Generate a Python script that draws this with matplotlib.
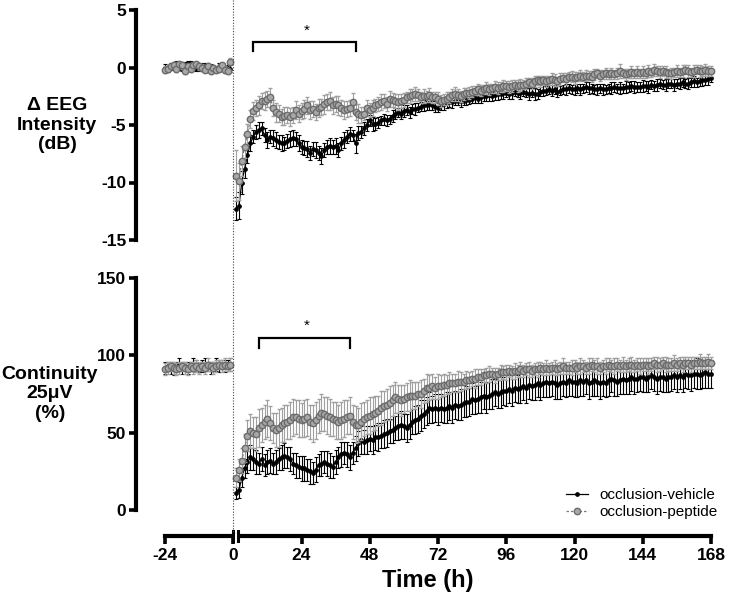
import matplotlib
matplotlib.use('Agg')
import matplotlib.pyplot as plt
import matplotlib.transforms as mtrans
from matplotlib.lines import Line2D

plt.rcParams['font.family'] = ['Liberation Sans', 'DejaVu Sans']

# ---------------- data ----------------
hours_pre = list(range(-24, 0))
hours_post = list(range(1, 169))
x_ticks = [-24, 0, 24, 48, 72, 96, 120, 144, 168]
eeg_ticks = [-15, -10, -5, 0, 5]
cont_ticks = [0, 50, 100, 150]
series_names = ['occlusion-vehicle', 'occlusion-peptide']

# EEG intensity (dB) -- baseline
eeg_veh_pre = [0.0, -0.2, 0.1, 0.2, 0.3, 0.1, -0.1, 0.2, 0.4, 0.3, 0.1, -0.1,
               0.0, 0.2, 0.1, -0.2, 0.0, -0.1, -0.2, 0.1, -0.1, -0.2, 0.0, -0.1]
eeg_pep_pre = [-0.2, -0.1, 0.1, 0.2, -0.1, 0.3, 0.2, -0.3, 0.1, -0.1, 0.2, 0.3,
               0.1, 0.0, -0.2, 0.1, -0.3, 0.0, -0.2, -0.1, 0.2, -0.2, -0.3, 0.5]
eeg_veh_pre_err = [0.3, 0.2, 0.3, 0.2, 0.3, 0.3, 0.2, 0.3, 0.2, 0.3, 0.3, 0.2,
                   0.3, 0.2, 0.3, 0.2, 0.3, 0.3, 0.2, 0.3, 0.2, 0.3, 0.2, 0.3]
eeg_pep_pre_err = [0.3, 0.3, 0.2, 0.3, 0.3, 0.2, 0.3, 0.3, 0.2, 0.3, 0.3, 0.2,
                   0.3, 0.3, 0.2, 0.3, 0.3, 0.2, 0.3, 0.3, 0.2, 0.3, 0.3, 0.3]

# EEG intensity (dB) -- after occlusion
eeg_veh = [-12.3, -12.0, -10.0, -8.8, -7.6, -6.6, -6.0, -5.6, -5.4, -5.3,
           -5.9, -6.3, -6.0, -6.1, -6.3, -6.5, -6.6, -6.6, -6.4, -6.2,
           -6.1, -6.2, -6.6, -6.9, -7.0, -7.1, -7.4, -7.1, -7.2, -7.4,
           -7.7, -7.2, -6.9, -6.8, -6.9, -6.8, -7.2, -6.6, -6.3, -6.0,
           -5.8, -5.9, -6.6, -5.7, -5.6, -5.3, -5.0, -4.6, -4.9, -4.9,
           -4.8, -4.6, -4.5, -4.6, -4.5, -4.2, -4.0, -3.9, -4.0, -3.8,
           -3.7, -3.9, -3.6, -3.6, -3.5, -3.4, -3.3, -3.3, -3.2, -3.3,
           -3.4, -3.5, -3.3, -3.2, -3.1, -3.0, -3.0, -2.9, -2.9, -2.9,
           -2.9, -2.8, -2.8, -2.7, -2.6, -2.7, -2.6, -2.5, -2.5, -2.4,
           -2.5, -2.4, -2.3, -2.3, -2.2, -2.2, -2.3, -2.2, -2.1, -2.2,
           -2.2, -2.1, -2.2, -2.3, -2.2, -2.3, -2.3, -2.1, -2.0, -2.0,
           -1.9, -2.0, -1.9, -2.1, -2.0, -1.9, -1.9, -1.8, -1.9, -1.9,
           -1.8, -1.9, -1.8, -1.7, -1.8, -1.8, -1.9, -1.9, -1.8, -1.9,
           -1.9, -1.8, -1.8, -1.7, -1.8, -1.8, -1.8, -1.7, -1.7, -1.6,
           -1.7, -1.7, -1.7, -1.6, -1.6, -1.7, -1.5, -1.6, -1.5, -1.4,
           -1.5, -1.5, -1.4, -1.4, -1.5, -1.4, -1.4, -1.3, -1.4, -1.4,
           -1.3, -1.2, -1.3, -1.2, -1.1, -1.1, -1.0, -0.9]
eeg_pep = [-9.4, -9.9, -8.1, -6.9, -5.8, -4.5, -3.8, -3.5, -3.3, -2.9,
           -2.9, -2.7, -2.6, -3.5, -3.9, -4.0, -4.3, -4.2, -4.1, -4.3,
           -4.1, -3.7, -4.0, -3.8, -3.6, -3.3, -3.7, -3.6, -3.9, -3.5,
           -3.4, -3.2, -3.0, -2.9, -3.3, -3.2, -3.3, -3.5, -3.7, -3.6,
           -3.5, -3.0, -3.9, -4.0, -4.1, -4.0, -3.5, -3.7, -3.5, -3.3,
           -3.2, -3.0, -2.9, -3.2, -2.7, -2.8, -2.9, -3.0, -2.9, -2.8,
           -2.6, -2.5, -2.4, -2.3, -2.4, -2.6, -2.5, -2.5, -2.4, -2.6,
           -2.6, -2.7, -2.9, -2.8, -2.7, -2.6, -2.4, -2.3, -2.4, -2.5,
           -2.3, -2.2, -2.2, -2.1, -2.0, -1.9, -2.0, -1.9, -1.8, -1.9,
           -1.8, -1.7, -1.8, -1.7, -1.6, -1.6, -1.7, -1.6, -1.5, -1.6,
           -1.5, -1.5, -1.4, -1.3, -1.4, -1.2, -1.1, -1.2, -1.1, -1.2,
           -1.1, -1.0, -1.1, -1.2, -1.0, -0.9, -1.0, -0.8, -0.8, -0.9,
           -0.8, -0.7, -0.8, -0.7, -0.7, -0.8, -0.6, -0.5, -0.7, -0.6,
           -0.5, -0.6, -0.5, -0.6, -0.5, -0.3, -0.5, -0.6, -0.5, -0.4,
           -0.5, -0.4, -0.5, -0.4, -0.5, -0.3, -0.4, -0.2, -0.3, -0.4,
           -0.3, -0.4, -0.5, -0.5, -0.4, -0.3, -0.4, -0.3, -0.2, -0.3,
           -0.4, -0.3, -0.2, -0.3, -0.3, -0.2, -0.3, -0.3]
eeg_veh_err = [1.0, 1.2, 1.0, 0.8, 0.7, 0.7, 0.6, 0.6, 0.7, 0.6,
               0.6, 0.7, 0.6, 0.7, 0.7, 0.6, 0.7, 0.6, 0.6, 0.7,
               0.7, 0.6, 0.7, 0.6, 0.6, 0.7, 0.6, 0.6, 0.7, 0.6,
               0.7, 0.6, 0.6, 0.7, 0.6, 0.7, 0.6, 0.6, 0.7, 0.6,
               0.6, 0.5, 0.8, 0.6, 0.5, 0.6, 0.5, 0.5, 0.6, 0.5,
               0.5, 0.4, 0.5, 0.5, 0.4, 0.5, 0.5, 0.4, 0.5, 0.5,
               0.4, 0.5, 0.4, 0.5, 0.4, 0.4, 0.5, 0.4, 0.5, 0.4,
               0.5, 0.4, 0.4, 0.5, 0.4, 0.4, 0.5, 0.4, 0.4, 0.5,
               0.4, 0.5, 0.4, 0.4, 0.5, 0.4, 0.5, 0.4, 0.4, 0.5,
               0.4, 0.4, 0.5, 0.4, 0.5, 0.4, 0.4, 0.5, 0.4, 0.4,
               0.5, 0.4, 0.4, 0.5, 0.4, 0.5, 0.4, 0.4, 0.5, 0.4,
               0.4, 0.5, 0.4, 0.5, 0.4, 0.4, 0.5, 0.4, 0.4, 0.5,
               0.4, 0.5, 0.4, 0.4, 0.5, 0.4, 0.4, 0.5, 0.4, 0.5,
               0.4, 0.4, 0.5, 0.4, 0.4, 0.5, 0.4, 0.5, 0.4, 0.4,
               0.5, 0.4, 0.4, 0.5, 0.4, 0.5, 0.4, 0.4, 0.5, 0.4,
               0.4, 0.5, 0.4, 0.4, 0.5, 0.4, 0.5, 0.4, 0.4, 0.5,
               0.4, 0.5, 0.4, 0.4, 0.5, 0.4, 0.5, 0.4]
eeg_pep_err = [2.2, 1.6, 1.3, 1.0, 0.9, 0.8, 0.8, 0.7, 0.8, 0.7,
               0.8, 0.7, 0.8, 0.7, 0.8, 0.7, 0.7, 0.8, 0.7, 0.8,
               0.7, 0.8, 0.7, 0.7, 0.8, 0.7, 0.8, 0.7, 0.7, 0.8,
               0.7, 0.8, 0.7, 0.8, 0.7, 0.7, 0.8, 0.7, 0.8, 0.7,
               0.7, 0.8, 0.7, 0.8, 0.7, 0.6, 0.7, 0.6, 0.7, 0.6,
               0.6, 0.7, 0.6, 0.6, 0.7, 0.6, 0.6, 0.7, 0.6, 0.6,
               0.5, 0.6, 0.5, 0.6, 0.5, 0.5, 0.6, 0.5, 0.6, 0.5,
               0.5, 0.6, 0.5, 0.5, 0.6, 0.5, 0.5, 0.6, 0.5, 0.5,
               0.5, 0.4, 0.5, 0.5, 0.4, 0.5, 0.5, 0.4, 0.5, 0.5,
               0.4, 0.5, 0.5, 0.4, 0.5, 0.4, 0.5, 0.5, 0.4, 0.5,
               0.5, 0.4, 0.5, 0.4, 0.5, 0.5, 0.4, 0.5, 0.4, 0.5,
               0.4, 0.5, 0.5, 0.4, 0.5, 0.4, 0.5, 0.4, 0.5, 0.5,
               0.4, 0.5, 0.4, 0.5, 0.4, 0.5, 0.5, 0.4, 0.5, 0.4,
               0.5, 0.4, 0.5, 0.4, 0.5, 0.6, 0.4, 0.5, 0.4, 0.5,
               0.4, 0.5, 0.4, 0.5, 0.4, 0.5, 0.4, 0.5, 0.4, 0.5,
               0.4, 0.5, 0.4, 0.5, 0.4, 0.5, 0.4, 0.5, 0.4, 0.5,
               0.4, 0.5, 0.4, 0.5, 0.4, 0.5, 0.4, 0.4]

# Continuity 25 uV (%) -- baseline
cont_veh_pre = [92, 93, 92, 91, 93, 94, 92, 93, 92, 93, 94, 93,
                92, 93, 94, 93, 92, 93, 94, 93, 94, 93, 94, 94]
cont_pep_pre = [91, 92, 93, 92, 91, 92, 93, 92, 91, 93, 92, 93,
                92, 93, 92, 94, 93, 92, 93, 94, 93, 94, 93, 94]
cont_veh_pre_err = [4, 3, 4, 4, 3, 4, 4, 3, 4, 3, 4, 4,
                    3, 4, 4, 3, 4, 3, 4, 4, 3, 4, 3, 4]
cont_pep_pre_err = [4, 4, 3, 4, 4, 4, 3, 4, 4, 3, 4, 4,
                    4, 3, 4, 4, 3, 4, 4, 3, 4, 4, 3, 4]

# Continuity 25 uV (%) -- after occlusion
cont_veh = [11, 13, 21, 27, 31, 34, 33, 31, 30, 33,
            29, 31, 32, 30, 31, 33, 34, 35, 34, 33,
            30, 29, 28, 27, 27, 26, 25, 24, 26, 29,
            30, 31, 30, 29, 28, 31, 34, 36, 37, 36,
            34, 37, 40, 43, 45, 44, 45, 46, 45, 47,
            47, 48, 49, 50, 51, 52, 53, 54, 55, 54,
            53, 55, 57, 58, 59, 61, 62, 64, 66, 65,
            66, 65, 66, 65, 66, 67, 66, 68, 67, 68,
            69, 70, 70, 72, 71, 72, 73, 74, 73, 74,
            75, 76, 75, 76, 77, 77, 78, 77, 79, 78,
            79, 80, 79, 81, 80, 81, 82, 81, 82, 83,
            82, 83, 82, 81, 82, 83, 82, 84, 83, 83,
            82, 84, 83, 84, 82, 83, 84, 83, 82, 83,
            82, 84, 85, 84, 83, 84, 85, 84, 85, 86,
            85, 85, 86, 86, 85, 86, 87, 86, 85, 86,
            86, 85, 86, 86, 87, 86, 87, 86, 88, 87,
            87, 88, 88, 87, 88, 89, 88, 88]
cont_pep = [21, 26, 32, 40, 48, 51, 50, 49, 53, 55,
            57, 59, 56, 53, 52, 53, 55, 56, 57, 58,
            60, 60, 59, 58, 59, 60, 57, 56, 58, 61,
            63, 62, 61, 60, 59, 58, 57, 58, 59, 60,
            61, 57, 55, 55, 57, 59, 60, 61, 62, 63,
            64, 66, 67, 68, 69, 71, 73, 72, 71, 72,
            73, 74, 74, 74, 75, 75, 77, 79, 79, 80,
            79, 80, 80, 81, 81, 82, 82, 82, 83, 83,
            83, 84, 84, 85, 85, 86, 86, 87, 87, 88,
            88, 87, 88, 89, 89, 89, 90, 89, 90, 90,
            91, 90, 91, 91, 90, 91, 91, 92, 91, 92,
            91, 92, 92, 91, 92, 93, 92, 92, 92, 93,
            92, 93, 93, 92, 93, 94, 93, 93, 92, 93,
            93, 94, 93, 93, 94, 93, 94, 93, 94, 94,
            93, 94, 93, 94, 94, 93, 94, 95, 94, 94,
            95, 94, 94, 94, 95, 94, 95, 94, 95, 95,
            94, 95, 95, 96, 95, 95, 96, 95]
cont_veh_err = [4, 5, 6, 6, 7, 8, 7, 8, 7, 8,
                7, 8, 8, 7, 8, 7, 8, 8, 7, 8,
                7, 8, 7, 8, 8, 7, 8, 7, 8, 7,
                8, 7, 8, 8, 7, 8, 7, 8, 7, 8,
                8, 7, 8, 8, 9, 8, 9, 8, 9, 8,
                9, 8, 9, 9, 8, 9, 8, 9, 9, 8,
                9, 9, 8, 9, 9, 10, 9, 9, 10, 9,
                9, 10, 9, 9, 10, 9, 10, 9, 9, 10,
                9, 10, 9, 10, 9, 9, 10, 9, 10, 9,
                10, 9, 9, 10, 9, 10, 9, 10, 9, 9,
                10, 9, 10, 9, 9, 10, 9, 10, 9, 10,
                9, 9, 10, 9, 10, 9, 9, 10, 9, 10,
                9, 10, 9, 9, 10, 9, 10, 9, 10, 9,
                9, 10, 9, 10, 9, 9, 10, 9, 10, 9,
                10, 9, 9, 10, 9, 10, 9, 9, 10, 9,
                10, 9, 10, 9, 9, 10, 9, 10, 9, 9,
                10, 9, 10, 9, 9, 10, 9, 9]
cont_pep_err = [6, 7, 8, 9, 10, 11, 10, 11, 12, 11,
                11, 12, 11, 10, 11, 12, 11, 12, 11, 12,
                12, 11, 12, 11, 12, 12, 11, 12, 12, 11,
                12, 11, 12, 12, 11, 12, 11, 12, 12, 11,
                12, 11, 12, 11, 12, 11, 11, 12, 11, 11,
                10, 11, 10, 10, 11, 10, 10, 9, 10, 9,
                9, 10, 9, 9, 8, 9, 8, 9, 8, 8,
                7, 8, 7, 7, 6, 7, 6, 6, 7, 6,
                5, 6, 5, 5, 6, 5, 5, 4, 5, 5,
                4, 5, 4, 5, 4, 5, 4, 4, 5, 4,
                5, 4, 4, 5, 4, 4, 5, 4, 4, 5,
                4, 4, 5, 4, 4, 5, 4, 4, 5, 4,
                4, 5, 4, 4, 5, 4, 4, 5, 4, 4,
                5, 4, 4, 5, 4, 4, 5, 4, 4, 5,
                4, 4, 5, 4, 4, 5, 4, 4, 5, 4,
                4, 5, 4, 4, 5, 4, 4, 5, 4, 4,
                5, 4, 4, 5, 4, 4, 5, 4]

# significance brackets (hours, value)
eeg_bracket = (7, 43, 2.2, 1.4)
cont_bracket = (9, 41, 111, 105)

# ---------------- styles ----------------
veh_style = dict(color='black', ecolor='black', marker='o', ms=2.4,
                 mfc='black', mec='black', lw=0.9, elinewidth=0.8,
                 capsize=1.7, capthick=0.8, ls='-')
pep_style = dict(color='#7a7a7a', ecolor='#a0a0a0', marker='o', ms=4.6,
                 mfc='#a8a8a8', mec='#6c6c6c', mew=1.0, lw=0.9,
                 elinewidth=0.8, capsize=1.7, capthick=0.8,
                 ls=(0, (2, 1.5)))

W_PX, H_PX = 731, 599
fig = plt.figure(figsize=(W_PX / 100, H_PX / 100), dpi=100)

x_left_px = 136
px_per_h = 546 / 192.0
xmin = -24 - (165 - x_left_px) / px_per_h
xmax = 171
ax_w_px = (xmax - xmin) * px_per_h

ax1 = fig.add_axes([x_left_px / W_PX, 1 - 240 / H_PX, ax_w_px / W_PX, 230 / H_PX])
ax2 = fig.add_axes([x_left_px / W_PX, 1 - 510 / H_PX, ax_w_px / W_PX, 232 / H_PX])

panels = [
    (ax1, eeg_veh_pre, eeg_veh_pre_err, eeg_pep_pre, eeg_pep_pre_err,
     eeg_veh, eeg_veh_err, eeg_pep, eeg_pep_err, (-15, 5), eeg_ticks),
    (ax2, cont_veh_pre, cont_veh_pre_err, cont_pep_pre, cont_pep_pre_err,
     cont_veh, cont_veh_err, cont_pep, cont_pep_err, (0, 150), cont_ticks),
]

for (ax, vpre, vpre_e, ppre, ppre_e, vpost, vpost_e, ppost, ppost_e, ylim, yt) in panels:
    ax.errorbar(hours_pre, vpre, yerr=vpre_e, zorder=2, **veh_style)
    ax.errorbar(hours_post, vpost, yerr=vpost_e, zorder=2, **veh_style)
    ax.errorbar(hours_pre, ppre, yerr=ppre_e, zorder=3, **pep_style)
    ax.errorbar(hours_post, ppost, yerr=ppost_e, zorder=3, **pep_style)
    ax.set_xlim(xmin, xmax)
    ax.set_ylim(*ylim)
    ax.set_yticks(yt)
    ax.set_yticklabels([str(v) for v in yt])
    for s in ['top', 'right']:
        ax.spines[s].set_visible(False)
    ax.spines['left'].set_linewidth(3.0)
    ax.tick_params(axis='y', direction='out', length=5, width=2.6,
                   labelsize=12.5, pad=2)
    for lbl in ax.get_yticklabels():
        lbl.set_fontweight('bold')
    ax.patch.set_alpha(0)

# top panel: no x axis
ax1.spines['bottom'].set_visible(False)
ax1.tick_params(axis='x', which='both', bottom=False, labelbottom=False)

# bottom panel x axis
offset_px = 26
ax2.spines['bottom'].set_position(('outward', offset_px * 0.72))
ax2.spines['bottom'].set_linewidth(3.0)
ax2.spines['bottom'].set_bounds(-24, 168)
ax2.set_xticks(x_ticks)
ax2.set_xticklabels([str(v) for v in x_ticks])
ax2.tick_params(axis='x', direction='out', length=6, width=2.6,
                labelsize=12.5, pad=3)
for lbl in ax2.get_xticklabels():
    lbl.set_fontweight('bold')
ax2.set_xlabel('Time (h)', fontsize=17, fontweight='bold', labelpad=4)

# axis break marks near 0 h
yaxis_spine = -offset_px / 232.0
bt = mtrans.blended_transform_factory(ax2.transData, ax2.transAxes)
ax2.add_line(Line2D([0.45, 1.35], [yaxis_spine, yaxis_spine], transform=bt,
                    color='white', lw=3.6, clip_on=False, zorder=5))
for bx in (0, 1.8):
    ax2.add_line(Line2D([bx, bx], [yaxis_spine - 5 / 232, yaxis_spine + 5 / 232],
                        transform=bt, color='black', lw=2.2, clip_on=False,
                        zorder=6))

# dotted vertical line at 0 h across both panels
ft = mtrans.blended_transform_factory(ax2.transData, fig.transFigure)
fig.add_artist(Line2D([0, 0], [1.0, 1 - 532 / H_PX], transform=ft,
                      color='#444444', lw=0.8, ls=(0, (1, 1.5))))

# significance brackets
for ax, (x0, x1, ytop, ybot), star_dy in ((ax1, eeg_bracket, 0.35), (ax2, cont_bracket, 3.5)):
    ax.plot([x0, x0, x1, x1], [ybot, ytop, ytop, ybot], color='black',
            lw=1.6, clip_on=False, solid_joinstyle='miter')
    ax.text((x0 + x1) / 2 + 1, ytop + star_dy, '*', ha='center', va='bottom',
            fontsize=11, clip_on=False)

# y-axis labels
fig.text(57 / W_PX, 1 - 125 / H_PX, '\u0394 EEG\nIntensity\n(dB)', ha='center',
         va='center', fontsize=14, fontweight='bold', multialignment='center',
         linespacing=1.2)
fig.text(50 / W_PX, 1 - 394 / H_PX, 'Continuity\n25\u03bcV\n(%)', ha='center',
         va='center', fontsize=14, fontweight='bold', multialignment='center',
         linespacing=1.2)

# legend
handles = [
    Line2D([], [], color='black', marker='o', ms=2.4, mfc='black', mec='black', lw=0.9),
    Line2D([], [], color='#7a7a7a', marker='o', ms=4.6, mfc='#a8a8a8', mec='#6c6c6c',
           lw=0.9, ls=(0, (2, 1.5))),
]
fig.legend(handles, series_names, loc='lower right',
           bbox_to_anchor=(718 / W_PX, 1 - 519 / H_PX), frameon=False,
           fontsize=11, handlelength=1.4, handletextpad=0.8, labelspacing=0.2,
           borderpad=0, borderaxespad=0)

fig.savefig('out.png', dpi=100)
